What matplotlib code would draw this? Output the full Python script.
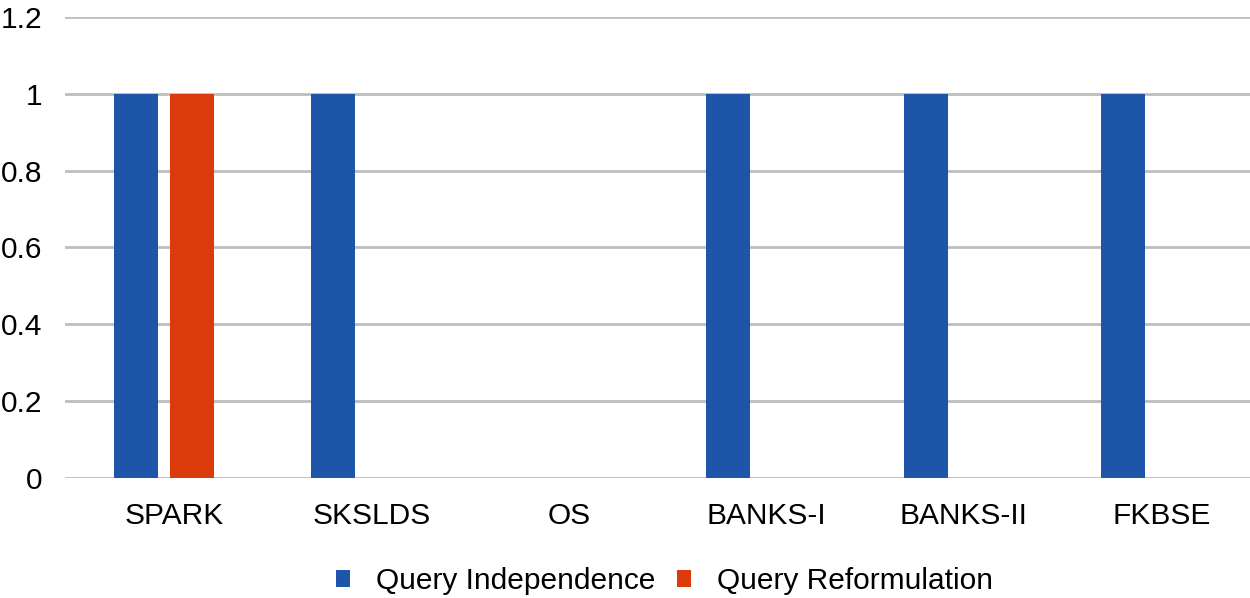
import matplotlib.pyplot as plt
import matplotlib.transforms as mtransforms
import numpy as np

plt.rcParams['font.family'] = ['Liberation Sans', 'DejaVu Sans']

categories = ["SPARK", "SKSLDS", "OS", "BANKS-I", "BANKS-II", "FKBSE"]
query_independence = [1, 1, 0, 1, 1, 1]
query_reformulation = [1, 0, 0, 0, 0, 0]
labels = ["Query Independence", "Query Reformulation"]
colors = ["#1D55A8", "#DB3A0B"]

fig = plt.figure(figsize=(12.5, 5.98), dpi=100)
ax = fig.add_axes([0.052, 0.2007, 0.948, 0.7709])

x = np.arange(len(categories))
w = 0.223
off = 0.142
ax.bar(x - off, query_independence, w, color=colors[0], label=labels[0], zorder=3)
ax.bar(x + off, query_reformulation, w, color=colors[1], label=labels[1], zorder=3)

ax.set_xlim(-0.5, len(categories) - 0.5)
ax.set_ylim(0, 1.2)
ax.set_yticks([0, 0.2, 0.4, 0.6, 0.8, 1, 1.2])
ax.set_yticklabels(["0", "0.2", "0.4", "0.6", "0.8", "1", "1.2"])
ax.set_xticks(x)
ax.set_xticklabels(categories)
ax.tick_params(length=0, labelsize=21.5, colors="black")
ax.tick_params(axis="x", pad=17)
ax.tick_params(axis="y", pad=16.5)
# category labels sit a little right of the group centre in the original
shift = mtransforms.ScaledTranslation(0.1, 0, fig.dpi_scale_trans)
for lbl in ax.get_xticklabels():
    lbl.set_transform(lbl.get_transform() + shift)
ax.grid(axis="y", color="#BDBDBD", linewidth=2, zorder=0)
for s in ax.spines.values():
    s.set_visible(False)

fig.legend(loc="center", bbox_to_anchor=(0.5316, 0.028), ncol=2, frameon=False,
           fontsize=21.5, handlelength=0.47, handleheight=0.47, columnspacing=0.7, handletextpad=0.87)

fig.savefig("out.png", dpi=100)
